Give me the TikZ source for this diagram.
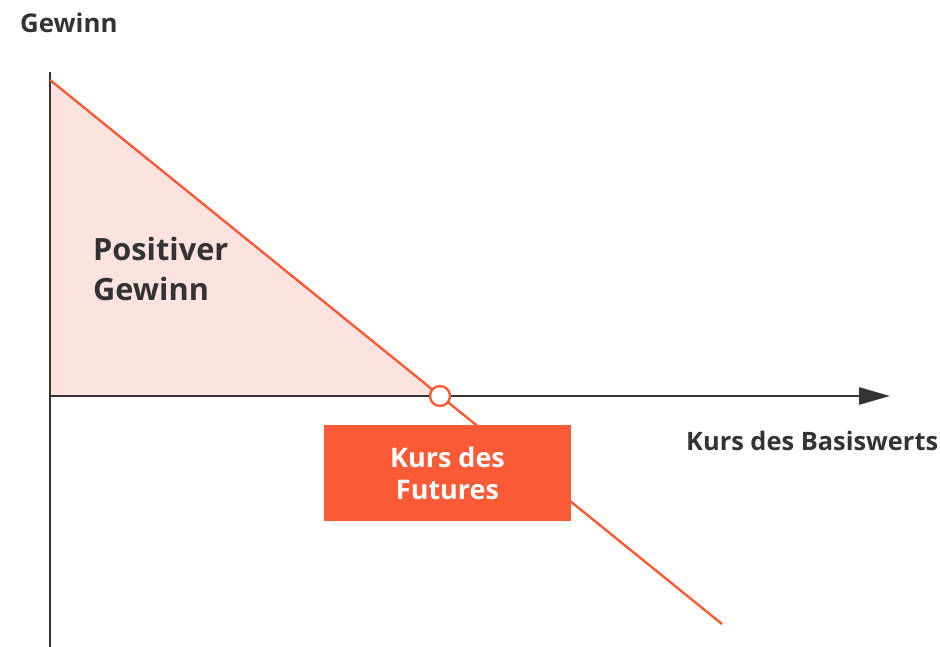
\documentclass[tikz,border=0pt]{standalone}
\usepackage{fontspec}
\setsansfont{Open Sans}
\usetikzlibrary{positioning, arrows.meta, calc}
\definecolor{axisgrey}{HTML}{333333}
\definecolor{payred}{HTML}{FA5A35}
\definecolor{gainpink}{HTML}{FDE3E0}

\begin{document}
\begin{tikzpicture}[
  x=1pt, y=-1pt,
  font=\sffamily\bfseries,
  axis/.style={
    draw=axisgrey,
    line width=2.5pt
  },
  payoff/.style={
    draw=payred,
    line width=2.4pt
  },
  axislabel/.style={
    text=axisgrey,
    font=\sffamily\bfseries\fontsize{25.4}{28}\selectfont,
    inner sep=0pt
  },
  futbox/.style={
    fill=payred,
    rectangle,
    minimum width=247pt,
    minimum height=96pt,
    align=center,
    text=white,
    font=\sffamily\bfseries\fontsize{27}{32}\selectfont
  }
]
  \useasboundingbox (0,0) rectangle (940,647);

  % --- Axes and payoff points ---
  \coordinate (origin) at (50,396);
  \coordinate (ytop)   at (50,72);
  \coordinate (ybot)   at (50,647);
  \coordinate (xend)   at (890,396);
  \coordinate (pstart) at (50,80);
  \coordinate (pend)   at (722,624);

  % Profit area
  \fill[gainpink] (pstart) -- (440,396) -- (origin) -- cycle;

  % Axes
  \draw[axis] (ytop) -- (ybot);
  \draw[axis, -{Triangle[length=31pt, width=17pt]}] (origin) -- (xend);

  % Payoff line of the short future
  \draw[payoff] (pstart) -- (pend);
  \node[circle, draw=payred, line width=2.4pt, fill=white,
        minimum size=20pt, inner sep=0pt] (strike) at (440,396) {};

  % --- Labels ---
  \node[axislabel, anchor=west, font=\sffamily\bfseries\fontsize{25.8}{28}\selectfont]
       (ylab) at (20,23) {Gewinn};
  \node[axislabel, anchor=west] (xlab) at (686,441) {Kurs des Basiswerts};
  \node[axislabel, anchor=west, align=left,
        font=\sffamily\bfseries\fontsize{30.7}{40}\selectfont]
       (gain) at (93,269) {Positiver\\Gewinn};
  \node[futbox] (fut) at (447.5,473) {Kurs des\\Futures};

\end{tikzpicture}
\end{document}
